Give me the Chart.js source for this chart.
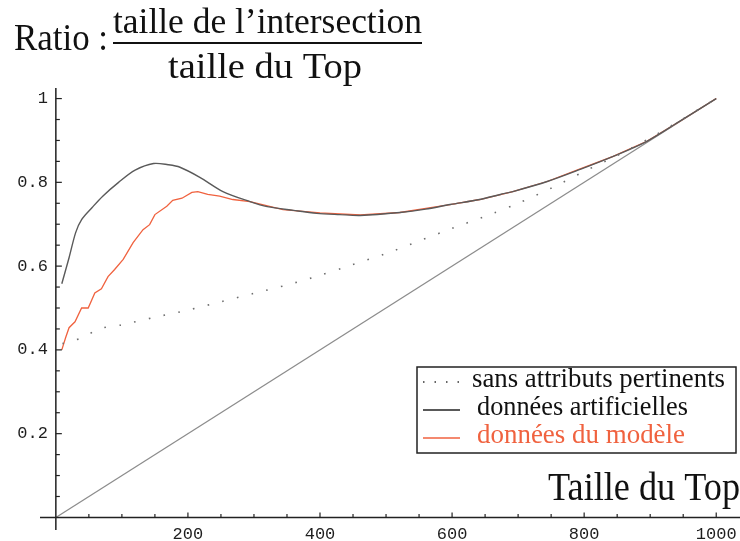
<!DOCTYPE html>
<html>
<head>
<meta charset="utf-8">
<script src="https://cdn.jsdelivr.net/npm/chart.js@4/dist/chart.umd.min.js"></script>
<style>
  html, body { margin: 0; padding: 0; background: #fff; }
  #wrap { width: 740px; height: 541px; }
</style>
</head>
<body>
<div id="wrap"><canvas id="myChart" width="740" height="541"></canvas></div>
<script>
// DATA
var artX = [9, 20, 30, 39, 55, 71, 95, 120, 148, 170, 188, 218, 253, 294, 320, 360, 395, 430, 461, 521, 560, 597, 642, 673, 692, 744, 794, 844, 895, 945, 1000];
var artY = [0.558, 0.62, 0.68, 0.711, 0.74, 0.767, 0.80, 0.829, 0.845, 0.842, 0.836, 0.812, 0.778, 0.754, 0.742, 0.733, 0.726, 0.723, 0.721, 0.728, 0.736, 0.747, 0.759, 0.771, 0.778, 0.802, 0.831, 0.862, 0.898, 0.946, 1.0];

var modX = [9, 15, 20, 29, 39, 49, 59, 69, 79, 89, 102, 117, 132, 142, 150, 168, 177, 191, 206, 215, 230, 248, 268, 294, 344, 400, 461, 521, 597, 642, 692, 744, 794, 844, 895, 945, 1000];
var modY = [0.40, 0.43, 0.453, 0.467, 0.50, 0.50, 0.536, 0.546, 0.575, 0.592, 0.616, 0.656, 0.687, 0.699, 0.723, 0.743, 0.757, 0.762, 0.776, 0.778, 0.771, 0.767, 0.759, 0.754, 0.735, 0.727, 0.722, 0.728, 0.747, 0.759, 0.778, 0.802, 0.832, 0.862, 0.898, 0.946, 1.0];

var sansX = [10, 26, 44, 64, 100, 150, 200, 250, 300, 350, 400, 435, 500, 550, 600, 662, 700, 750, 800, 850, 900, 950, 1000];
var sansY = [0.415, 0.422, 0.431, 0.45, 0.46, 0.478, 0.495, 0.515, 0.535, 0.555, 0.578, 0.596, 0.63, 0.66, 0.69, 0.726, 0.75, 0.786, 0.826, 0.864, 0.906, 0.952, 1.0];

var diagX = [0, 1000];
var diagY = [0, 1];

var seriesNames = ['sans attributs pertinents', 'données artificielles', 'données du modèle'];
var yTickValues = [0.2, 0.4, 0.6, 0.8, 1];
var yTickLabels = ['0.2', '0.4', '0.6', '0.8', '1'];
var xTickValues = [200, 400, 600, 800, 1000];
var xTickLabels = ['200', '400', '600', '800', '1000'];

function pts(xs, ys) {
  var out = [];
  xs.forEach(function (x, i) { out.push({x: x, y: ys[i]}); });
  return out;
}

var RED = '#f0623f';

// draws serif text squeezed to a width (the picture is narrower than normal Times)
function fitText(ctx, txt, left, base, w, size) {
  ctx.save();
  ctx.font = size + 'px "Liberation Serif", "Times New Roman", serif';
  var m = ctx.measureText(txt).width;
  ctx.translate(left, base);
  ctx.scale(w / m, 1);
  ctx.textAlign = 'left';
  ctx.textBaseline = 'alphabetic';
  ctx.fillText(txt, 0, 0);
  ctx.restore();
}

var axesPlugin = {
  id: 'axesPlugin',
  afterDraw: function (chart) {
    var ctx = chart.ctx;
    var xs = chart.scales.x, ys = chart.scales.y;
    var x0 = xs.getPixelForValue(0), y0 = ys.getPixelForValue(0);
    ctx.save();
    ctx.strokeStyle = '#222';
    ctx.lineWidth = 1.5;
    // axis lines
    ctx.beginPath();
    ctx.moveTo(x0, chart.chartArea.top + 2);
    ctx.lineTo(x0, chart.chartArea.bottom);
    ctx.moveTo(chart.chartArea.left, y0);
    ctx.lineTo(chart.chartArea.right, y0);
    ctx.stroke();
    // y ticks every 0.05
    ctx.lineWidth = 1.2;
    for (var k = 1; k <= 20; k++) {
      var v = k * 0.05;
      var py = ys.getPixelForValue(v);
      var len = (k % 4 === 0) ? 6 : 4;
      ctx.beginPath();
      ctx.moveTo(x0, py);
      ctx.lineTo(x0 + len, py);
      ctx.stroke();
    }
    // x ticks every 50
    for (var j = 1; j <= 20; j++) {
      var px = xs.getPixelForValue(j * 50);
      var l2 = (j % 4 === 0) ? 5 : 3.5;
      ctx.beginPath();
      ctx.moveTo(px, y0);
      ctx.lineTo(px, y0 - l2);
      ctx.stroke();
    }
    // tick labels
    ctx.fillStyle = '#1e1e1e';
    ctx.font = '17px "Liberation Mono", "DejaVu Sans Mono", monospace';
    ctx.textAlign = 'right';
    ctx.textBaseline = 'middle';
    yTickValues.forEach(function (v, i) {
      ctx.fillText(yTickLabels[i], x0 - 8, ys.getPixelForValue(v));
    });
    ctx.textAlign = 'center';
    xTickValues.forEach(function (v, i) {
      ctx.fillText(xTickLabels[i], xs.getPixelForValue(v), y0 + 17);
    });

    // titles
    ctx.fillStyle = '#111';
    fitText(ctx, 'Ratio :', 14, 50, 94, 38);
    fitText(ctx, 'taille de l\u2019intersection', 113, 33, 309, 36);
    fitText(ctx, 'taille du Top', 168, 78, 194, 36);
    ctx.lineWidth = 1.8;
    ctx.strokeStyle = '#111';
    ctx.beginPath();
    ctx.moveTo(113, 43);
    ctx.lineTo(422, 43);
    ctx.stroke();
    fitText(ctx, 'Taille du Top', 548, 500, 192, 40);

    // legend box
    var d = chart.data.datasets;
    ctx.fillStyle = '#fff';
    ctx.fillRect(417, 367, 319, 86);
    ctx.lineWidth = 1.5;
    ctx.strokeStyle = '#222';
    ctx.strokeRect(417, 367, 319, 86);
    var rows = [{y: 382, base: 387, left: 472, w: 253}, {y: 410, base: 415, left: 477, w: 211}, {y: 438, base: 443, left: 477, w: 208}];
    rows.forEach(function (r, i) {
      var ds = d[i];
      ctx.save();
      ctx.strokeStyle = i === 0 ? '#333' : (i === 1 ? '#222' : ds.borderColor);
      ctx.lineWidth = 1.5;
      ctx.setLineDash(i === 0 ? [1.5, 10] : []);
      ctx.beginPath();
      ctx.moveTo(423, r.y);
      ctx.lineTo(460, r.y);
      ctx.stroke();
      ctx.restore();
      ctx.fillStyle = i === 2 ? RED : '#111';
      fitText(ctx, seriesNames[i], r.left, r.base, r.w, 28);
    });
    ctx.restore();
  }
};

const data = {
  datasets: [
    {
      label: seriesNames[0],
      data: pts(sansX, sansY),
      borderColor: '#6e6e6e',
      borderWidth: 1.6,
      borderDash: [1.6, 13.5],
      pointRadius: 0,
      tension: 0.3
    },
    {
      label: seriesNames[1],
      data: pts(artX, artY),
      borderColor: '#5a5a5a',
      borderWidth: 1.4,
      pointRadius: 0,
      tension: 0.3
    },
    {
      label: seriesNames[2],
      data: pts(modX, modY),
      borderColor: RED,
      borderWidth: 1.3,
      pointRadius: 0,
      tension: 0
    },
    {
      label: 'diag',
      data: pts(diagX, diagY),
      borderColor: '#8c8c8c',
      borderWidth: 1.3,
      pointRadius: 0
    }
  ]
};

const config = {
  type: 'line',
  data: data,
  options: {
    responsive: false,
    animation: false,
    layout: { padding: { left: 40, right: 0, top: 86, bottom: 11 } },
    scales: {
      x: { type: 'linear', min: -24, max: 1036, display: false },
      y: { type: 'linear', min: -0.03, max: 1.03, display: false }
    },
    plugins: {
      legend: { display: false },
      tooltip: { enabled: false }
    }
  },
  plugins: [axesPlugin]
};

const myChart = new Chart(document.getElementById('myChart'), config);
</script>
</body>
</html>
